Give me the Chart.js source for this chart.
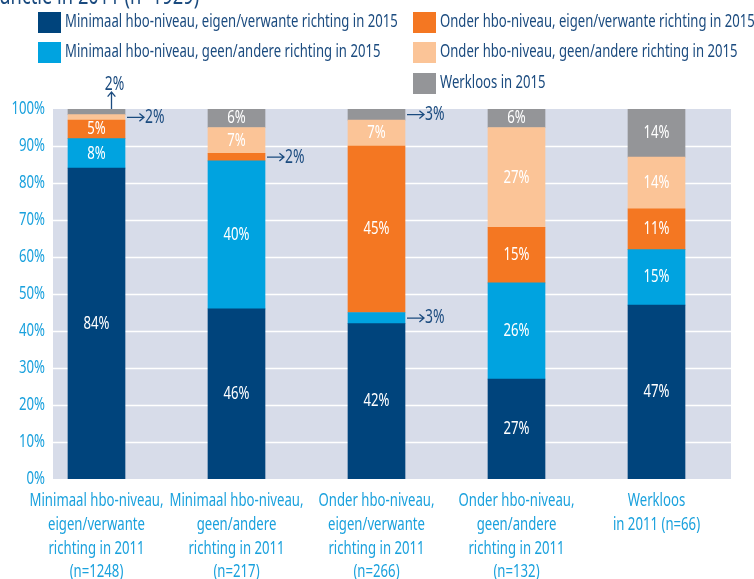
<!DOCTYPE html>
<html>
<head>
<meta charset="utf-8">
<script src="https://cdn.jsdelivr.net/npm/chart.js@4"></script>
<style>
  html, body { margin: 0; padding: 0; background: #fff; }
</style>
</head>
<body>
<canvas id="chart" width="754" height="579"></canvas>
<script>
const FONT = '"Noto Sans", sans-serif'
const DARK = '#1b4b7f'
const TICK = '#1aa1dd'

const categories = [
  ['Minimaal hbo-niveau,', 'eigen/verwante', 'richting in 2011', '(n=1248)'],
  ['Minimaal hbo-niveau,', 'geen/andere', 'richting in 2011', '(n=217)'],
  ['Onder hbo-niveau,', 'eigen/verwante', 'richting in 2011', '(n=266)'],
  ['Onder hbo-niveau,', 'geen/andere', 'richting in 2011', '(n=132)'],
  ['Werkloos', 'in 2011 (n=66)']
]
const seriesNames = [
  'Minimaal hbo-niveau, eigen/verwante richting in 2015',
  'Minimaal hbo-niveau, geen/andere richting in 2015',
  'Onder hbo-niveau, eigen/verwante richting in 2015',
  'Onder hbo-niveau, geen/andere richting in 2015',
  'Werkloos in 2015'
]
const minEigen = [84, 46, 42, 27, 47]
const minGeen = [8, 40, 3, 26, 15]
const onderEigen = [5, 2, 45, 15, 11]
const onderGeen = [1.5, 7, 7, 27, 14]
const werkloos = [1.5, 6, 3, 6, 14]
const colors = ['#00447c', '#00a3e0', '#f47722', '#fbc497', '#949598']
const yTicks = [0, 10, 20, 30, 40, 50, 60, 70, 80, 90, 100]
const title = 'functie in 2011 (n=1929)'

// small segments labelled outside with an arrow: [series, category, direction]
const callouts = [[3, 0, 'right'], [4, 0, 'up'], [2, 1, 'right'], [4, 2, 'right'], [1, 2, 'right']]

const pct = v => Math.round(v) + '%'
let squeeze = 0.75
let legendSize = 18

// the original uses a condensed face, so squeeze a normal one horizontally
function txt(ctx, str, x, y, align, size) {
  ctx.save()
  ctx.font = size + 'px ' + FONT
  ctx.translate(x, y)
  ctx.scale(squeeze, 1)
  ctx.textAlign = align
  ctx.fillText(str, 0, 0)
  ctx.restore()
}

function arrow(ctx, x1, y1, x2, y2) {
  const a = Math.atan2(y2 - y1, x2 - x1)
  ctx.beginPath()
  ctx.moveTo(x1, y1)
  ctx.lineTo(x2, y2)
  ctx.moveTo(x2 - 6 * Math.cos(a - 0.7), y2 - 6 * Math.sin(a - 0.7))
  ctx.lineTo(x2, y2)
  ctx.lineTo(x2 - 6 * Math.cos(a + 0.7), y2 - 6 * Math.sin(a + 0.7))
  ctx.stroke()
}

const decor = {
  id: 'decor',
  beforeDatasetsDraw(chart) {
    const { ctx, chartArea, scales: { x, y } } = chart
    ctx.save()
    ctx.font = '18px ' + FONT
    squeeze = 134 / ctx.measureText(categories[0][0]).width
    legendSize = 18 * 333 / (ctx.measureText(seriesNames[0]).width * squeeze)
    const left = x.getPixelForValue(0) - 43.5
    const right = x.getPixelForValue(categories.length - 1) + 74.5
    ctx.fillStyle = '#d7dce9'
    ctx.fillRect(left, chartArea.top, right - left, chartArea.bottom - chartArea.top)
    ctx.strokeStyle = '#ffffff'
    ctx.lineWidth = 1.5
    yTicks.slice(1, -1).forEach(v => {
      const py = Math.round(y.getPixelForValue(v)) + 0.5
      ctx.beginPath()
      ctx.moveTo(left, py)
      ctx.lineTo(right, py)
      ctx.stroke()
    })
    ctx.restore()
  },
  afterDatasetsDraw(chart) {
    const { ctx, chartArea, scales: { x, y } } = chart
    ctx.save()
    ctx.textBaseline = 'middle'
    ctx.fillStyle = '#ffffff'
    chart.data.datasets.forEach((ds, i) => {
      chart.getDatasetMeta(i).data.forEach((el, j) => {
        const v = ds.data[j]
        if (v < 5) return
        const top = Math.max(el.y, chartArea.top)
        txt(ctx, pct(v), el.x, (top + el.base) / 2, 'center', 18)
      })
    })
    // callouts
    ctx.strokeStyle = DARK
    ctx.fillStyle = DARK
    ctx.lineWidth = 1.3
    callouts.forEach(([i, j, dir]) => {
      const el = chart.getDatasetMeta(i).data[j]
      const v = chart.data.datasets[i].data[j]
      const top = Math.max(el.y, chartArea.top)
      const half = el.width / 2
      if (dir === 'right') {
        const cy = (top + el.base) / 2
        arrow(ctx, el.x + half + 2, cy, el.x + half + 19, cy)
        txt(ctx, pct(v), el.x + half + 20, cy, 'left', 19)
      } else {
        const ax = el.x + 15
        arrow(ctx, ax, top, ax, top - 17)
        txt(ctx, pct(v), ax + 3, top - 24, 'center', 19)
      }
    })
    // axis labels
    ctx.fillStyle = TICK
    yTicks.forEach(v => txt(ctx, v + '%', 45, y.getPixelForValue(v), 'right', 18))
    categories.forEach((lines, j) => {
      lines.forEach((line, k) => {
        txt(ctx, line, x.getPixelForValue(j), chartArea.bottom + 22 + k * 23.7, 'center', 18)
      })
    })
    ctx.restore()
  },
  afterDraw(chart) {
    const { ctx } = chart
    ctx.save()
    ctx.fillStyle = DARK
    ctx.textBaseline = 'alphabetic'
    txt(ctx, title, -7, 4, 'left', 25)
    // legend: two columns
    const spots = [[38, 12], [38, 42], [413, 12], [413, 42], [413, 73]]
    ctx.textBaseline = 'middle'
    chart.data.datasets.forEach((ds, i) => {
      const [lx, ly] = spots[i]
      ctx.fillStyle = ds.backgroundColor
      ctx.fillRect(lx, ly, 23, 21)
      ctx.fillStyle = DARK
      txt(ctx, ds.label, lx + 27, ly + 10, 'left', legendSize)
    })
    ctx.restore()
  }
}

const series = [minEigen, minGeen, onderEigen, onderGeen, werkloos]

new Chart(document.getElementById('chart'), {
  type: 'bar',
  data: {
    labels: categories,
    datasets: series.map((d, i) => ({
      label: seriesNames[i],
      data: d,
      backgroundColor: colors[i],
      borderWidth: 0,
      barThickness: 57,
      clip: { left: false, right: false, top: 0, bottom: 0 }
    }))
  },
  options: {
    responsive: false,
    animation: false,
    layout: { padding: { top: 109, right: 97.5, left: 0, bottom: 0 } },
    plugins: { legend: { display: false }, tooltip: { enabled: false } },
    scales: {
      x: {
        stacked: true,
        offset: false,
        grid: { display: false, drawTicks: false },
        border: { display: false },
        ticks: { display: false },
        afterFit: s => { s.height = 100 }
      },
      y: {
        stacked: true,
        min: 0,
        max: 100,
        grid: { display: false, drawTicks: false },
        border: { display: false },
        afterBuildTicks: s => { s.ticks = yTicks.map(v => ({ value: v })) },
        ticks: { display: false },
        afterFit: s => { s.width = 96.5 }
      }
    }
  },
  plugins: [decor]
})
</script>
</body>
</html>
